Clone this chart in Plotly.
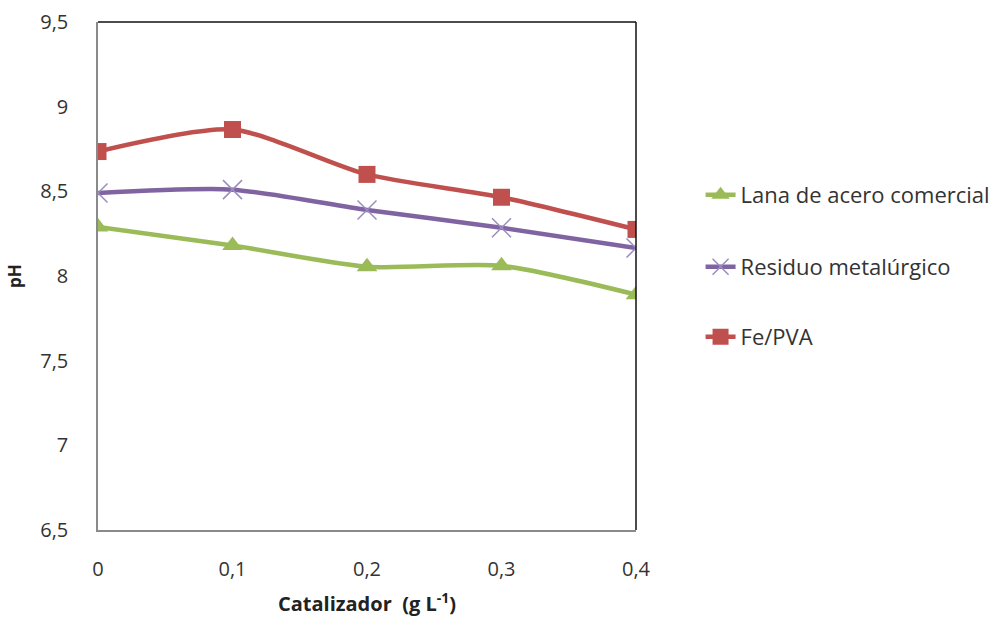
import plotly.graph_objects as go

x_vals = [0, 0.1, 0.2, 0.3, 0.4]
x_ticktext = ["0", "0,1", "0,2", "0,3", "0,4"]
lana = [8.29, 8.18, 8.055, 8.06, 7.89]
residuo = [8.49, 8.51, 8.39, 8.285, 8.165]
fepva = [8.735, 8.865, 8.60, 8.465, 8.275]
y_tickvals = [6.5, 7, 7.5, 8, 8.5, 9, 9.5]
y_ticktext = ["6,5", "7", "7,5", "8", "8,5", "9", "9,5"]
names = ["Lana de acero comercial", "Residuo metalúrgico", "Fe/PVA"]

FONT = "Open Sans"
TXT = "#333333"
fig = go.Figure()
fig.add_trace(go.Scatter(x=x_vals, y=lana, name=names[0], mode="lines+markers",
                         line=dict(color="#9BBB59", width=4.5, shape="spline", smoothing=0.7),
                         marker=dict(symbol="triangle-up", size=18, color="#9BBB59"),
                         legend="legend"))
fig.add_trace(go.Scatter(x=x_vals, y=residuo, name=names[1], mode="lines+markers",
                         line=dict(color="#8064A2", width=4.5, shape="spline", smoothing=0.7),
                         marker=dict(symbol="x-thin-open", size=19, color="#9A8CC0",
                                     line=dict(width=1.5, color="#9A8CC0")),
                         legend="legend2"))
fig.add_trace(go.Scatter(x=x_vals, y=fepva, name=names[2], mode="lines+markers",
                         line=dict(color="#C0504D", width=4.5, shape="spline", smoothing=0.7),
                         marker=dict(symbol="square", size=17, color="#C0504D"),
                         legend="legend3"))

top, bottom = 22, 530
ph = bottom - top
def ly(py):
    return (bottom - py) / ph

leg_common = dict(x=1.12, xanchor="left", yanchor="middle", bgcolor="rgba(0,0,0,0)",
                  font=dict(family=FONT, size=22, color=TXT))
fig.update_layout(
    width=1008, height=617,
    showlegend=True,
    margin=dict(l=98, r=372, t=top, b=617 - bottom, autoexpand=False),
    paper_bgcolor="white", plot_bgcolor="white",
    separators=",.",
    font=dict(family=FONT, size=20, color=TXT),
    legend=dict(y=ly(195), **leg_common),
    legend2=dict(y=ly(267), **leg_common),
    legend3=dict(y=ly(337), **leg_common),
    xaxis=dict(range=[0, 0.4], tickvals=x_vals, ticktext=x_ticktext, showgrid=False,
               zeroline=False, showline=True, linecolor="#8a8a8a", linewidth=1.5,
               ticks="", ticklabelstandoff=20, automargin=False,
               tickfont=dict(family=FONT, size=20, color=TXT),
               title=dict(text="<b>Catalizador  (g L<sup>-1</sup>)</b>", standoff=23,
                          font=dict(family=FONT, size=20, color="#222"))),
    yaxis=dict(range=[6.5, 9.5], tickvals=y_tickvals, ticktext=y_ticktext, showgrid=False,
               zeroline=False, showline=True, linecolor="#8a8a8a", linewidth=1.5,
               ticks="", ticklabelstandoff=24, automargin=False,
               tickfont=dict(family=FONT, size=20, color=TXT),
               title=dict(text="<b>pH</b>", standoff=14,
                          font=dict(family=FONT, size=17, color="#222"))),
    shapes=[
        dict(type="line", xref="paper", yref="paper", x0=0, x1=1, y0=1, y1=1,
             line=dict(color="#111", width=1.5)),
        dict(type="line", xref="paper", yref="paper", x0=1, x1=1, y0=0, y1=1,
             line=dict(color="#111", width=1.5)),
    ],
)
fig.write_html("out.html")
